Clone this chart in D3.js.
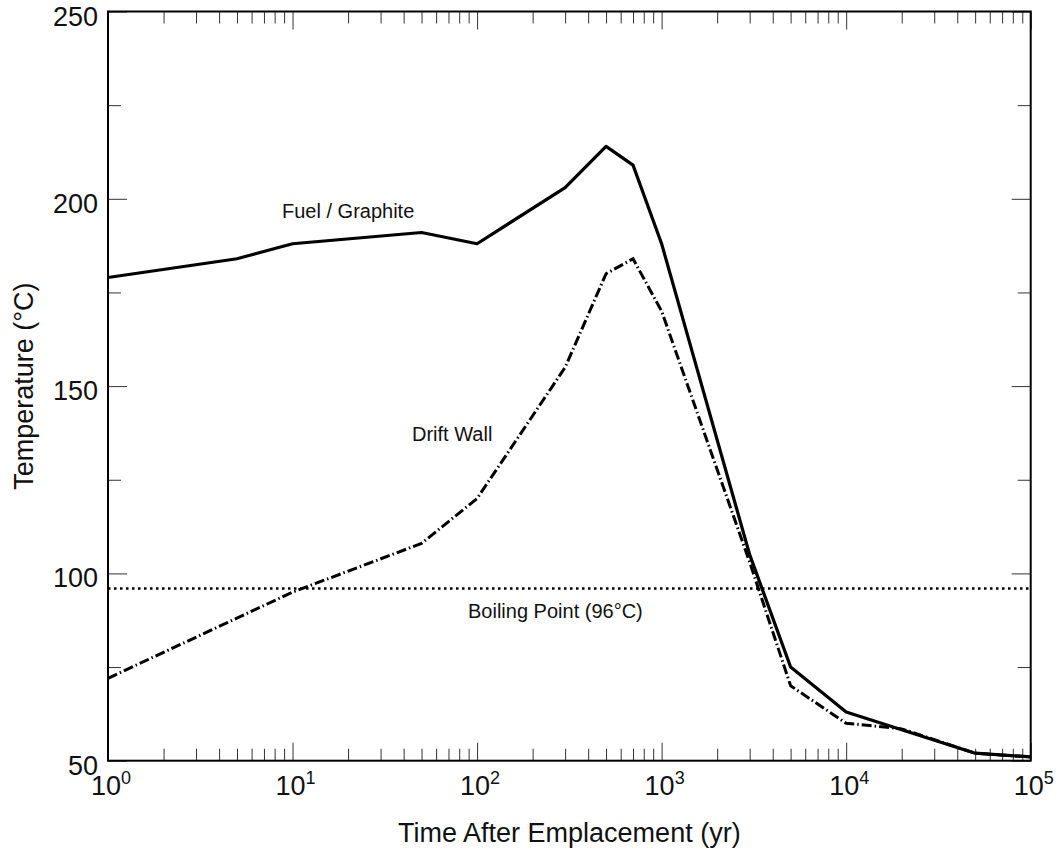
<!DOCTYPE html>
<html>
  <head>
    <meta charset="utf-8">
    <script src="https://d3js.org/d3.v7.min.js"></script>
    <style>
      body { margin: 0; background: #fff; }
      svg text { font-family: "Liberation Sans", Arial, sans-serif; fill: #111; }
    </style>
  </head>
  <body>
    <svg id="chart" width="1062" height="856"></svg>
    <script>
      // values
      const fuelYears = [1, 5, 10, 50, 100, 300, 500, 700, 1000, 3000, 5000, 10000, 50000, 100000]
      const fuelTemp = [179, 184, 188, 191, 188, 203, 214, 209, 188, 105, 75, 63, 52, 51]
      const driftYears = [1, 10, 50, 100, 300, 500, 700, 1000, 3000, 5000, 10000, 20000, 50000, 100000]
      const driftTemp = [72, 95, 108, 120, 155, 180, 184, 170, 103, 70, 60, 58.5, 52, 51]
      const boilingPoint = 96
      const xMajor = [1, 10, 100, 1000, 10000, 100000]
      const xExponents = ['0', '1', '2', '3', '4', '5']
      const yMajor = [50, 100, 150, 200, 250]
      const yMinor = [75, 125, 175, 225]

      const W = 1062, H = 856
      const m = { left: 108, top: 11.5, right: 31.3, bottom: 95.3 }
      const svg = d3.select('#chart')

      const x = d3.scaleLog().domain([1, 1e5]).range([m.left, W - m.right])
      const y = d3.scaleLinear().domain([50, 250]).range([H - m.bottom, m.top])

      // minor log ticks 2..9 of each decade
      let xMinor = []
      for (let d = 0; d < 5; d++) {
        for (let k = 2; k <= 9; k++) xMinor.push(k * Math.pow(10, d))
      }

      const tickStyle = g => g.call(g => g.select('.domain').remove())
        .selectAll('line').attr('stroke', '#333').attr('stroke-width', 1)

      // inward ticks on all four sides
      svg.append('g').attr('transform', `translate(0,${y(50)})`)
        .call(d3.axisBottom(x).tickValues(xMajor).tickSize(-18).tickFormat(''))
        .call(tickStyle)
      svg.append('g').attr('transform', `translate(0,${y(50)})`)
        .call(d3.axisBottom(x).tickValues(xMinor).tickSize(-12).tickFormat(''))
        .call(tickStyle)
      svg.append('g').attr('transform', `translate(0,${y(250)})`)
        .call(d3.axisTop(x).tickValues(xMajor).tickSize(-18).tickFormat(''))
        .call(tickStyle)
      svg.append('g').attr('transform', `translate(0,${y(250)})`)
        .call(d3.axisTop(x).tickValues(xMinor).tickSize(-12).tickFormat(''))
        .call(tickStyle)
      svg.append('g').attr('transform', `translate(${x(1)},0)`)
        .call(d3.axisLeft(y).tickValues(yMajor).tickSize(-19).tickFormat(''))
        .call(tickStyle)
      svg.append('g').attr('transform', `translate(${x(1)},0)`)
        .call(d3.axisLeft(y).tickValues(yMinor).tickSize(-13).tickFormat(''))
        .call(tickStyle)
      svg.append('g').attr('transform', `translate(${x(1e5)},0)`)
        .call(d3.axisRight(y).tickValues(yMajor).tickSize(-19).tickFormat(''))
        .call(tickStyle)
      svg.append('g').attr('transform', `translate(${x(1e5)},0)`)
        .call(d3.axisRight(y).tickValues(yMinor).tickSize(-13).tickFormat(''))
        .call(tickStyle)

      // y tick labels
      svg.append('g').selectAll('text').data(yMajor).join('text')
        .attr('x', x(1) - 10)
        .attr('y', d => y(d) + 14)
        .attr('text-anchor', 'end')
        .attr('font-size', 27)
        .text(d => d)

      // x tick labels as 10^n
      const xl = svg.append('g').selectAll('text').data(xMajor).join('text')
        .attr('x', d => x(d) + 3)
        .attr('y', y(50) + 34)
        .attr('text-anchor', 'middle')
        .attr('font-size', 27)
      xl.append('tspan').text('10')
      xl.append('tspan').attr('font-size', 18).attr('dy', -11)
        .text((d, i) => xExponents[i])

      // boiling point
      svg.append('line')
        .attr('x1', x(1)).attr('x2', x(1e5))
        .attr('y1', y(boilingPoint)).attr('y2', y(boilingPoint))
        .attr('stroke', '#000').attr('stroke-width', 2.5)
        .attr('stroke-dasharray', '2.5,3.5')

      const line = d3.line().x(d => x(d[0])).y(d => y(d[1]))

      svg.append('path')
        .datum(d3.zip(driftYears, driftTemp))
        .attr('d', line)
        .attr('fill', 'none').attr('stroke', '#000').attr('stroke-width', 3)
        .attr('stroke-dasharray', '10,3,1.5,3')

      svg.append('path')
        .datum(d3.zip(fuelYears, fuelTemp))
        .attr('d', line)
        .attr('fill', 'none').attr('stroke', '#000').attr('stroke-width', 3.2)
        .attr('stroke-linejoin', 'round')

      // frame
      svg.append('rect')
        .attr('x', x(1)).attr('y', y(250))
        .attr('width', x(1e5) - x(1)).attr('height', y(50) - y(250))
        .attr('fill', 'none').attr('stroke', '#000').attr('stroke-width', 2)

      // curve labels
      svg.append('text').attr('x', 282).attr('y', 218).attr('font-size', 20).text('Fuel / Graphite')
      svg.append('text').attr('x', 412).attr('y', 441).attr('font-size', 20).text('Drift Wall')
      svg.append('text').attr('x', 468).attr('y', 618).attr('font-size', 20).text('Boiling Point (96°C)')

      // axis titles
      svg.append('text')
        .attr('x', (x(1) + x(1e5)) / 2).attr('y', 842)
        .attr('text-anchor', 'middle').attr('font-size', 27)
        .text('Time After Emplacement (yr)')
      svg.append('text')
        .attr('transform', `translate(33,${(y(50) + y(250)) / 2}) rotate(-90)`)
        .attr('text-anchor', 'middle').attr('font-size', 27)
        .text('Temperature (°C)')
    </script>
  </body>
</html>
